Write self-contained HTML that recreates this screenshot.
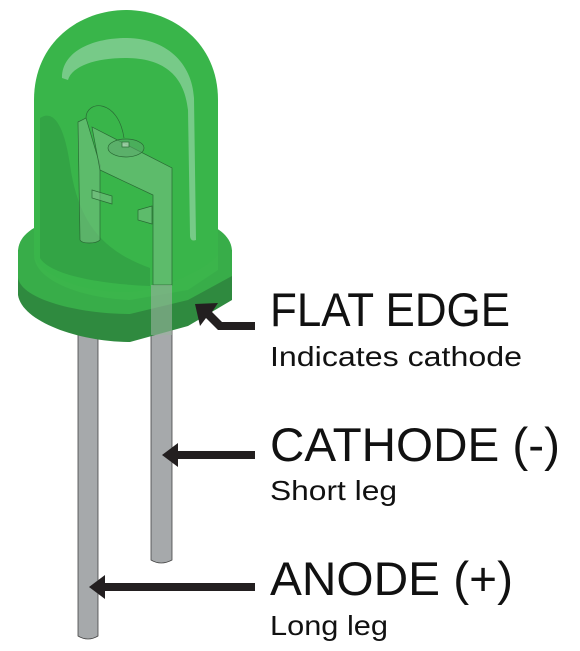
<!DOCTYPE html>
<html><head><meta charset="utf-8"><style>
html,body{margin:0;padding:0;background:#fff;width:580px;height:651px;overflow:hidden}
svg{display:block}
text{font-family:"Liberation Sans","DejaVu Sans",sans-serif;fill:#111}
</style></head><body>
<svg width="580" height="651" viewBox="0 0 580 651">
<g>
<path d="M78,300 L78,636 Q88,642 98,636 L98,300 Z" fill="#a6a9ab" stroke="#444" stroke-width="0.8"/>
</g>
<g>
<path d="M151,300 L151,560 Q161,566 172,560 L172,300 Z" fill="#a6a9ab" stroke="#444" stroke-width="0.8"/>
</g>
<g>
<path d="M18,250 L18,295 C22,322 80,342 130,342 L188,326 L232,300 L232,250 Z" fill="#2f8a3f"/>
<path d="M18,252 C18,222 70,212 125,212 C180,212 232,222 232,252 L232,276 L188,300 L130,314 C80,314 22,300 18,278 Z" fill="#38ad49"/>
<path d="M34,255 C34,280 80,298 130,300 L188,290 L218,270 L218,255 Z" fill="#3bb54b"/>
</g>
<g>
<path d="M34,255 L34,100 C34,42 80,10 126,10 C172,10 218,42 218,100 L218,255 C200,275 150,292 126,292 C80,292 40,275 34,255 Z" fill="#39b54a"/>
<path d="M40,258 L40,118 C55,108 65,130 70,165 C78,220 100,250 150,268 L150,286 C100,284 50,275 40,258 Z" fill="#33a445"/>
<path d="M62,78 C62,50 95,38 126,38 C165,38 192,62 194,98 L196,240 C191,242 190,238 190,235 L188,110 C184,72 160,58 125,58 C96,58 72,66 68,80 Z" fill="#77ca88"/>
</g>
<g fill="#7cbf86" fill-opacity="0.55" stroke="#2a6b35" stroke-width="0.7">
<path d="M78,122 L86,118 L100,165 L100,240 C96,244 82,244 80,240 Z"/>
<path d="M92,127 L172,168 L172,285 L153,285 L153,195 L100,170 Z"/>
<path d="M92,190 L112,196 L112,204 L92,198 Z"/>
<path d="M138,210 L152,206 L152,224 L138,220 Z"/>
<ellipse cx="126" cy="148" rx="18" ry="9" fill="#5aa86a"/>
<rect x="122" y="142" width="7" height="5" fill="#cfe8d2"/>
<path d="M86,118 C86,100 118,98 124,138" fill="none"/>
<rect x="151" y="285" width="21" height="50" fill="#9bb4a0" fill-opacity="0.6" stroke="none"/>
</g>
<g fill="#231f20">
<path d="M195,304 L218,303 L212,312 L222,322 L255,322 L255,330 L218,330 L206,318 L200,326 Z"/>
</g>
<g fill="#231f20">
<path d="M162,455 L178,443 L178,451 L255,451 L255,459 L178,459 L178,467 Z"/>
</g>
<g fill="#231f20">
<path d="M89,587 L105,575 L105,583 L255,583 L255,591 L105,591 L105,599 Z"/>
</g>
<text x="270" y="326" font-size="47" textLength="240" lengthAdjust="spacingAndGlyphs">FLAT EDGE</text>
<text x="270" y="366" font-size="28" textLength="252" lengthAdjust="spacingAndGlyphs">Indicates cathode</text>
<text x="270" y="461" font-size="47" textLength="290" lengthAdjust="spacingAndGlyphs">CATHODE (-)</text>
<text x="270" y="500" font-size="28" textLength="127" lengthAdjust="spacingAndGlyphs">Short leg</text>
<text x="270" y="595" font-size="47" textLength="243" lengthAdjust="spacingAndGlyphs">ANODE (+)</text>
<text x="270" y="635" font-size="28" textLength="118" lengthAdjust="spacingAndGlyphs">Long leg</text>
</svg>
</body></html>
